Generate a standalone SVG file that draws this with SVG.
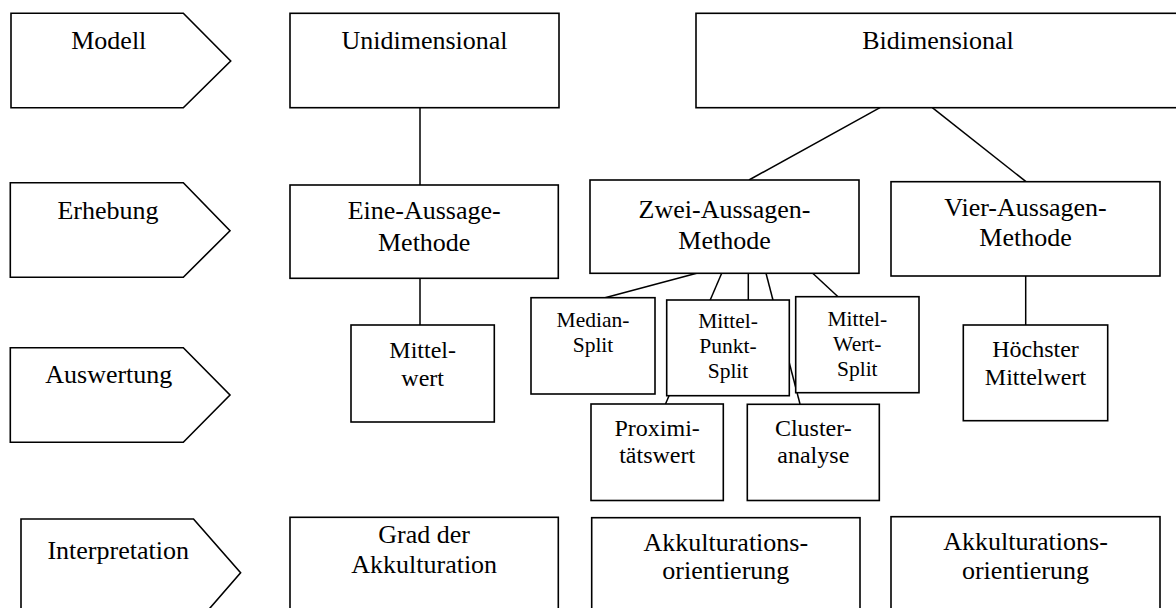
<svg xmlns="http://www.w3.org/2000/svg" width="1176" height="608" viewBox="0 0 1176 608">
<style>
  .box { fill: #fff; stroke: #000; stroke-width: 1.6; }
  .con { stroke: #000; stroke-width: 1.5; fill: none; }
  .t { fill: #000; text-anchor: middle; }
  .lg { font-size: 26px; }
  .md { font-size: 24px; }
  .sm { font-size: 21.5px; }
</style>
<rect width="1176" height="608" fill="#fff"/>

<g id="connectors">
  <line class="con" x1="420" y1="107.7" x2="420" y2="185"/>
  <line class="con" x1="420" y1="278.3" x2="420" y2="325"/>
  <line class="con" x1="880" y1="107.7" x2="749" y2="180"/>
  <line class="con" x1="932.3" y1="107.7" x2="1026" y2="181.7"/>
  <line class="con" x1="1025.7" y1="276" x2="1025.7" y2="325"/>
  <line class="con" x1="696.7" y1="273.3" x2="605" y2="297.7"/>
  <line class="con" x1="721.7" y1="273.3" x2="665.5" y2="404"/>
  <line class="con" x1="748.3" y1="273.3" x2="748.3" y2="300"/>
  <line class="con" x1="766" y1="273.3" x2="800" y2="404"/>
  <line class="con" x1="812.7" y1="273.3" x2="838.3" y2="297"/>
</g>

<g id="nodes" font-family="'Liberation Serif', Tinos, 'Times New Roman', 'DejaVu Serif', serif">
<g id="stage-modell">
  <polygon class="box" points="11,13.3 183.3,13.3 230.7,61 183.3,107.7 11,107.7"/>
  <text class="t lg" x="108.8" y="49.3">Modell</text>
</g>
<g id="stage-erhebung">
  <polygon class="box" points="10.3,182.7 183.3,182.7 230,230.7 183.3,277.3 10.3,277.3"/>
  <text class="t lg" x="108" y="218.5">Erhebung</text>
</g>
<g id="stage-auswertung">
  <polygon class="box" points="10.3,347.7 183.3,347.7 230,395 183.3,442.3 10.3,442.3"/>
  <text class="t lg" x="108.8" y="382.7">Auswertung</text>
</g>
<g id="stage-interpretation">
  <polygon class="box" points="21,519 193.5,519 240.6,572.8 193.5,627 21,627"/>
  <text class="t lg" x="118.2" y="559.4">Interpretation</text>
</g>

<g id="unidimensional">
  <rect class="box" x="290" y="13.3" width="269" height="94.4"/>
  <text class="t lg" x="424.5" y="49.3">Unidimensional</text>
</g>
<g id="bidimensional">
  <rect class="box" x="696" y="13.3" width="484" height="94.4"/>
  <text class="t lg" x="938" y="49.3">Bidimensional</text>
</g>

<g id="eine-aussage">
  <rect class="box" x="290" y="185" width="268.3" height="93.3"/>
  <text class="t lg" x="424.2" y="219.3">Eine-Aussage-</text>
  <text class="t lg" x="424.2" y="250.7">Methode</text>
</g>
<g id="zwei-aussagen">
  <rect class="box" x="590" y="180" width="269" height="93.3"/>
  <text class="t lg" x="724.5" y="217.5">Zwei-Aussagen-</text>
  <text class="t lg" x="724.5" y="249">Methode</text>
</g>
<g id="vier-aussagen">
  <rect class="box" x="891" y="181.7" width="269" height="94.3"/>
  <text class="t lg" x="1025.5" y="216">Vier-Aussagen-</text>
  <text class="t lg" x="1025.5" y="246">Methode</text>
</g>

<g id="mittelwert">
  <rect class="box" x="351" y="325" width="143.3" height="97"/>
  <text class="t md" x="422.7" y="358.3">Mittel-</text>
  <text class="t md" x="422.7" y="386">wert</text>
</g>
<g id="median-split">
  <rect class="box" x="531" y="297.7" width="124" height="96.3"/>
  <text class="t sm" x="593" y="326.7">Median-</text>
  <text class="t sm" x="593" y="351.7">Split</text>
</g>
<g id="mittel-punkt-split">
  <rect class="box" x="666.7" y="300" width="122.6" height="95.7"/>
  <text class="t sm" x="728" y="328.3">Mittel-</text>
  <text class="t sm" x="728" y="353.3">Punkt-</text>
  <text class="t sm" x="728" y="378.3">Split</text>
</g>
<g id="mittel-wert-split">
  <rect class="box" x="795.7" y="296.7" width="123.3" height="96"/>
  <text class="t sm" x="857.3" y="325.7">Mittel-</text>
  <text class="t sm" x="857.3" y="350.7">Wert-</text>
  <text class="t sm" x="857.3" y="375.7">Split</text>
</g>
<g id="proximitaetswert">
  <rect class="box" x="591" y="404" width="132.3" height="96.5"/>
  <text class="t md" x="657.2" y="435.7">Proximi-</text>
  <text class="t md" x="657.2" y="463.3">tätswert</text>
</g>
<g id="clusteranalyse">
  <rect class="box" x="747.3" y="404.3" width="132" height="96.2"/>
  <text class="t md" x="813.3" y="435.7">Cluster-</text>
  <text class="t md" x="813.3" y="463.3">analyse</text>
</g>
<g id="hoechster-mittelwert">
  <rect class="box" x="963.3" y="325" width="144.4" height="95.7"/>
  <text class="t md" x="1035.5" y="357.3">Höchster</text>
  <text class="t md" x="1035.5" y="385">Mittelwert</text>
</g>

<g id="grad-akkulturation">
  <rect class="box" x="290" y="517.3" width="268.3" height="110"/>
  <text class="t lg" x="424.2" y="543.3">Grad der</text>
  <text class="t lg" x="424.2" y="572.7">Akkulturation</text>
</g>
<g id="akkulturationsorientierung-1">
  <rect class="box" x="591.7" y="517.7" width="268.3" height="110"/>
  <text class="t lg" x="725.8" y="550.7">Akkulturations-</text>
  <text class="t lg" x="725.8" y="579">orientierung</text>
</g>
<g id="akkulturationsorientierung-2">
  <rect class="box" x="891" y="516.7" width="269" height="110"/>
  <text class="t lg" x="1025.5" y="550">Akkulturations-</text>
  <text class="t lg" x="1025.5" y="579">orientierung</text>
</g>
</g>
</svg>
